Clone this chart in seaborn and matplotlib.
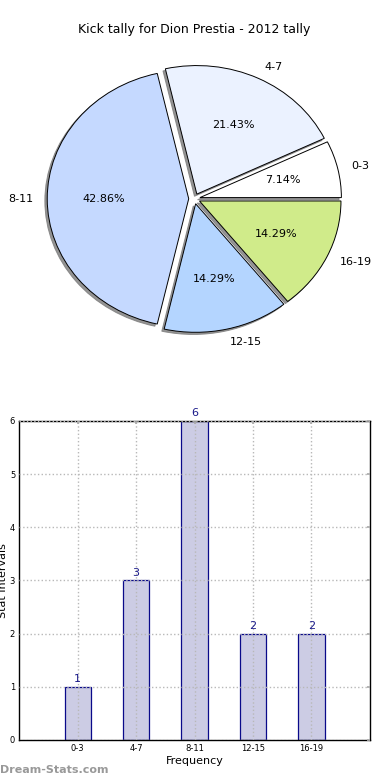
import matplotlib
matplotlib.use("Agg")
import matplotlib.pyplot as plt
import seaborn as sns

# data
categories = ["0-3", "4-7", "8-11", "12-15", "16-19"]
counts = [1, 3, 6, 2, 2]
pie_colors = ["#ffffff", "#ebf2ff", "#c5d9ff", "#b4d5ff", "#d0eb8a"]
explode = [0.04, 0.04, 0.04, 0.04, 0.04]
title = "Kick tally for Dion Prestia - 2012 tally"

sns.set_theme(style="white")
plt.rcParams["font.family"] = ["DejaVu Sans"]
plt.rcParams["text.color"] = "black"
plt.rcParams["axes.labelcolor"] = "black"
plt.rcParams["xtick.color"] = "black"
plt.rcParams["ytick.color"] = "black"

fig = plt.figure(figsize=(3.9, 7.8), dpi=100)

# pie chart (top), slightly elliptical like the original
ax_pie = fig.add_axes([0.0449, 0.5392, 0.907, 0.412])
wedges, texts, autotexts = ax_pie.pie(
    counts, labels=categories, colors=pie_colors, explode=explode,
    autopct="%.2f%%", startangle=0, pctdistance=0.6, labeldistance=1.1,
    shadow=dict(ox=-0.012, oy=-0.012, facecolor="#7a7a7a", edgecolor="#7a7a7a", alpha=0.8),
    wedgeprops=dict(edgecolor="black", linewidth=0.7),
    textprops=dict(fontsize=8, color="black"),
)
ax_pie.set_aspect("auto")
ax_pie.set_xlim(-1.25, 1.25)
ax_pie.set_ylim(-1.25, 1.25)
fig.text(0.4987, 1 - 30 / 780, title, ha="center", va="center", fontsize=9, color="black")

# bar chart (bottom)
ax_bar = fig.add_axes([0.0495, 0.0513, 0.899, 0.409])
sns.barplot(x=categories, y=counts, ax=ax_bar, width=0.45, color="#ccccE4",
            saturation=1, edgecolor="#0a0a8a", linewidth=0.9)
ax_bar.set_xlim(-1, 5)
ax_bar.set_ylim(0, 6)
ax_bar.set_axisbelow(False)
ax_bar.grid(True, linestyle=":", color="#b8b8b8", linewidth=1.0)
for s in ax_bar.spines.values():
    s.set_color("black")
    s.set_linewidth(1.0)
ax_bar.tick_params(axis="both", labelsize=6, length=2, direction="in",
                   top=True, right=True, color="#aaaaaa", pad=3)
for i, v in enumerate(counts):
    ax_bar.annotate(str(v), (i, v), xytext=(0, 2), textcoords="offset points",
                    ha="center", va="bottom", fontsize=8, color="#1a1a8a")
ax_bar.set_xlabel("Frequency", fontsize=8, labelpad=2)
ax_bar.set_ylabel("Stat Intervals", fontsize=8)
ax_bar.yaxis.set_label_coords(-0.031, 0.5)

fig.text(0.0, 1 - 770 / 780, "Dream-Stats.com", ha="left", va="center",
         fontsize=8, color="#999999", fontweight="bold")

fig.savefig("out.png", dpi=100)
